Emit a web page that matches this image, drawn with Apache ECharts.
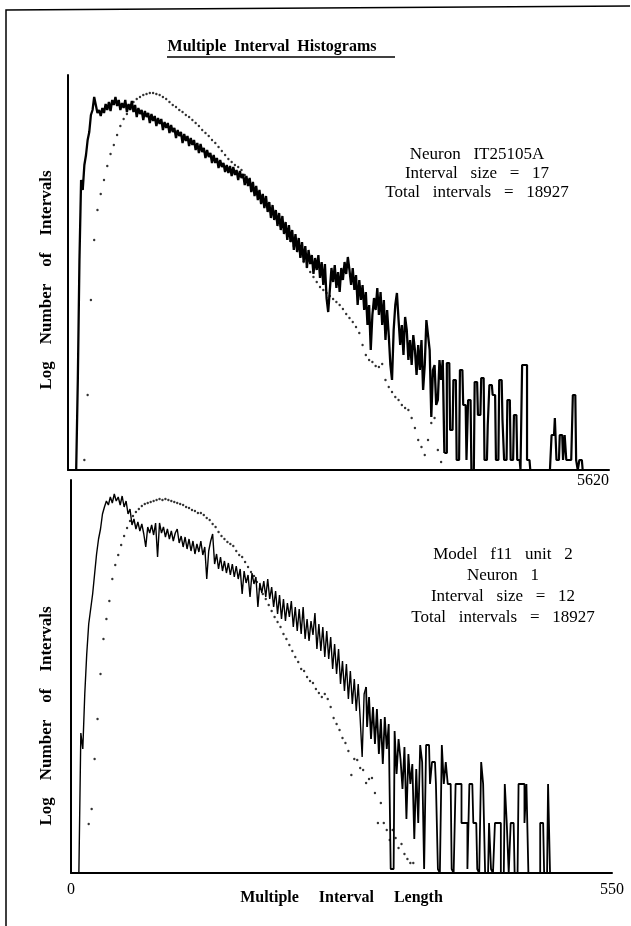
<!DOCTYPE html>
<html>
<head>
<meta charset="utf-8">
<script src="https://cdn.jsdelivr.net/npm/echarts@6/dist/echarts.min.js"></script>
<style>
  html, body { margin: 0; padding: 0; background: #fff; }
  #chart { width: 631px; height: 926px; }
</style>
</head>
<body>
<div id="chart"></div>
<script>
// Log-count multiple-interval histograms, one value per bin (null = bin not drawn).
// Upper panel: recorded neuron, 17 ms bins on an axis running to 5620.
const topBinWidth = 17;
const topAxisMax = 5620;
const topNeuron = [
  null, null, null, null, null, -0.1, 0.8, 2.0, 2.8, 2.7,
  2.95, 3.05, 3.2, 3.28, 3.45, 3.5, 3.63, 3.55, 3.47, 3.5,
  3.44, 3.52, 3.47, 3.56, 3.5, 3.58, 3.49, 3.6, 3.55, 3.63,
  3.54, 3.6, 3.5, 3.57, 3.52, 3.6, 3.48, 3.56, 3.5, 3.59,
  3.48, 3.55, 3.43, 3.52, 3.46, 3.5, 3.4, 3.49, 3.43, 3.47,
  3.37, 3.46, 3.39, 3.44, 3.34, 3.42, 3.36, 3.41, 3.3, 3.38,
  3.32, 3.37, 3.27, 3.35, 3.28, 3.32, 3.22, 3.3, 3.24, 3.28,
  3.17, 3.26, 3.19, 3.24, 3.14, 3.22, 3.15, 3.2, 3.1, 3.17,
  3.07, 3.16, 3.08, 3.12, 3.02, 3.1, 3.03, 3.07, 2.97, 3.05,
  2.97, 3.02, 2.92, 3.0, 2.93, 2.97, 2.88, 2.95, 2.87, 2.94,
  2.84, 2.93, 2.85, 2.9, 2.8, 2.89, 2.82, 2.86, 2.75, 2.84,
  2.74, 2.82, 2.68, 2.78, 2.64, 2.74, 2.6, 2.7, 2.56, 2.66,
  2.52, 2.64, 2.48, 2.58, 2.42, 2.55, 2.4, 2.5, 2.34, 2.47,
  2.3, 2.44, 2.26, 2.38, 2.2, 2.35, 2.18, 2.3, 2.1, 2.26,
  2.08, 2.22, 2.02, 2.18, 1.98, 2.14, 1.92, 2.1, 1.96, 2.05,
  1.86, 2.02, 1.9, 2.05, 1.82, 1.98, 1.75, 1.96, 1.62, 1.48,
  1.7, 1.92, 1.78, 1.95, 1.72, 1.88, 1.68, 1.92, 1.8, 1.98,
  1.86, 2.03, 1.9, 1.75, 1.92, 1.7, 1.85, 1.55, 1.8, 1.6,
  1.75, 1.5, 1.68, 1.35, 1.55, 1.1, 1.45, 1.62, 1.5, 1.72,
  1.45, 1.68, 1.35, 1.6, 1.2, 1.5, 1.25, 0.95, 0.8, 1.3,
  1.55, 1.67, 1.4, 1.15, 1.35, 1.05, 1.43, 1.3, 1.0, 1.2,
  0.95, 1.25, 1.1, 0.85, 1.15, 0.9, 1.2, 0.7, 0.95, 1.4,
  1.4, 1.1, 0.43, 0.9, 0.95, 0.55, 0.6, 1.0, 0.8, 1.0,
  0.07, 0.07, 0.97, 0.97, 0.3, 0.3, 0.8, 0.8, 0.0, 0.0,
  0.9, 0.9, 0.55, 0.55, 0.0, 0.6, 0.6, -0.1, -0.1, 0.78,
  0.78, 0.45, 0.45, 0.82, 0.82, 0.0, 0.0, 0.35, 0.75, 0.75,
  0.65, 0.65, 0.0, 0.0, 0.8, 0.8, 0.4, 0.0, 0.0, 0.6,
  0.6, 0.0, 0.0, 0.45, 0.45, 0.0, 0.0, -0.1, 0.95, 0.95,
  0.95, 0.0, 0.0, -0.1, -0.1, -0.1, -0.1, -0.1, -0.1, -0.1,
  -0.1, -0.1, -0.1, -0.1, -0.1, -0.1, 0.25, 0.25, 0.42, 0.0,
  0.0, 0.25, 0.25, 0.0, 0.25, 0.0, 0.0, 0.0, 0.0, 0.65,
  0.65, 0.0, -0.1, 0.0, 0.0, -0.1, -0.1, -0.1, -0.1, -0.1,
  -0.1, -0.1, -0.1, -0.1, -0.1, -0.1, -0.1, -0.1, -0.1, -0.1,
  -0.1
];
// from this bin on the sparse tail is drawn as blocky steps
const topTailStart = 230;

// Dotted reference curve of the upper panel, 34 ms bins.
const topModelBinWidth = 34;
const topModel = [
  null, null, null, null, null, 0.0, 0.65, 1.6, 2.2, 2.5,
  2.66, 2.8, 2.94, 3.06, 3.15, 3.25, 3.34, 3.41, 3.46, 3.53,
  3.58, 3.61, 3.63, 3.65, 3.66, 3.67, 3.67, 3.66, 3.65, 3.63,
  3.61, 3.58, 3.55, 3.53, 3.5, 3.48, 3.45, 3.43, 3.4, 3.37,
  3.34, 3.3, 3.27, 3.24, 3.2, 3.17, 3.13, 3.09, 3.05, 3.01,
  2.98, 2.95, 2.93, 2.9, 2.85, 2.8, 2.75, 2.71, 2.67, 2.63,
  2.58, 2.53, 2.48, 2.44, 2.39, 2.34, 2.29, 2.24, 2.19, 2.14,
  2.09, 2.04, 1.98, 1.93, 1.88, 1.83, 1.78, 1.73, 1.7, 1.67,
  1.64, 1.61, 1.58, 1.55, 1.51, 1.46, 1.42, 1.38, 1.33, 1.27,
  1.15, 1.05, 1.0, 0.98, 0.94, 0.93, 0.96, 0.8, 0.73, 0.68,
  0.63, 0.6, 0.55, 0.52, 0.5, 0.42, 0.32, 0.2, 0.13, 0.05,
  0.2, 0.37, 0.42, 0.1, -0.02
];

// Lower panel: model unit, bins of 2 on an axis running to 550.
const bottomBinWidth = 2;
const bottomAxisMax = 550;
const bottomNeuron = [
  null, null, null, null, -0.04, 1.36, 1.2, 1.75, 2.15, 2.45,
  2.6, 2.75, 2.95, 3.15, 3.3, 3.4, 3.55, 3.62, 3.68, 3.64,
  3.72, 3.66, 3.75, 3.68, 3.72, 3.64, 3.73, 3.62, 3.68, 3.55,
  3.6, 3.44, 3.5, 3.4, 3.47, 3.38, 3.45, 3.35, 3.22, 3.42,
  3.36, 3.44, 3.34, 3.46, 3.12, 3.46, 3.36, 3.42, 3.32, 3.4,
  3.3, 3.38, 3.28, 3.36, 3.4, 3.26, 3.33, 3.22, 3.32, 3.2,
  3.3, 3.18, 3.28, 3.15, 3.25, 3.17, 3.28, 3.14, 3.22, 2.9,
  3.18, 3.28, 3.35, 3.05, 3.15, 3.0, 3.12, 2.98, 3.08, 2.96,
  3.06, 2.94, 3.05, 2.92, 3.03, 2.9, 3.0, 2.75, 2.98, 2.86,
  2.94, 2.72, 2.96, 2.85, 2.92, 2.62, 2.86, 2.76, 2.88, 2.72,
  2.9, 2.7, 2.82, 2.62, 2.78, 2.55, 2.74, 2.5, 2.7, 2.48,
  2.66, 2.52, 2.68, 2.42, 2.62, 2.38, 2.6, 2.35, 2.62, 2.3,
  2.5, 2.28, 2.48, 2.34, 2.56, 2.2, 2.45, 2.18, 2.42, 2.12,
  2.38, 2.1, 2.32, 2.0, 2.25, 1.95, 2.2, 1.85, 2.08, 1.78,
  2.05, 1.7, 1.98, 1.65, 1.9, 1.58, 1.85, 1.5, 1.12, 1.75,
  1.82, 1.42, 1.72, 1.3, 1.62, 1.25, 1.6, 1.15, 1.5, 1.05,
  1.52, 1.2, 1.45, 0.0, 0.0, 1.38, 0.95, 1.3, 1.1, 0.8,
  1.22, 0.5, 1.15, 0.85, 1.05, 0.3, 1.0, 0.46, 1.24, 1.07,
  0.0, 1.24, 1.24, 0.85, 1.07, 1.07, 0.85, 0.0, -0.04, 1.24,
  0.85, 1.07, 0.85, 0.85, 0.0, -0.04, 0.85, 0.85, 0.85, 0.46,
  0.46, 0.46, 0.0, 0.85, 0.85, 0.46, 0.46, 0.0, -0.04, 1.07,
  0.85, -0.04, -0.04, 0.46, 0.0, -0.04, 0.46, 0.46, 0.46, -0.04,
  -0.04, 0.85, 0.46, -0.04, 0.46, 0.46, -0.04, -0.04, 0.85, 0.85,
  0.85, 0.46, 0.85, -0.04, -0.04, -0.04, -0.04, -0.04, -0.04, 0.46,
  0.46, -0.04, -0.04, 0.85, -0.04, -0.04, -0.04, -0.04, -0.04, -0.04,
  -0.04, -0.04, -0.04, -0.04, -0.04, -0.04, -0.04, -0.04, -0.04, -0.04,
  -0.04, -0.04, -0.04, -0.04, -0.04, -0.04, -0.04, -0.04, -0.04, -0.04,
  -0.04, -0.04, -0.04, -0.04, -0.04, -0.04
];
const bottomTailStart = 150;

// Dotted reference curve of the lower panel, bins of 3.
const bottomModelBinWidth = 3;
const bottomModel = [
  null, null, null, null, null, null, 0.45, 0.6, 1.1, 1.5,
  1.95, 2.3, 2.5, 2.68, 2.9, 3.04, 3.14, 3.24, 3.33, 3.41,
  3.48, 3.53, 3.57, 3.6, 3.63, 3.65, 3.66, 3.67, 3.68, 3.69,
  3.7, 3.69, 3.7, 3.69, 3.68, 3.67, 3.66, 3.65, 3.64, 3.62,
  3.61, 3.59, 3.58, 3.56, 3.56, 3.54, 3.51, 3.49, 3.45, 3.42,
  3.37, 3.33, 3.3, 3.27, 3.25, 3.23, 3.18, 3.14, 3.12, 3.07,
  3.02, 2.97, 2.93, 2.87, 2.8, 2.75, 2.7, 2.64, 2.58, 2.52,
  2.47, 2.42, 2.35, 2.3, 2.24, 2.18, 2.12, 2.07, 2.0, 1.98,
  1.92, 1.88, 1.86, 1.8, 1.76, 1.72, 1.75, 1.7, 1.62, 1.51,
  1.45, 1.39, 1.31, 1.26, 1.18, 0.94, 1.1, 1.09, 1.01, 0.99,
  0.86, 0.9, 0.91, 0.76, 0.46, 0.66, 0.46, 0.39, 0.29, 0.39,
  0.31, 0.21, 0.25, 0.15, 0.1, 0.06, 0.06
];

const topInfo = ['Neuron   IT25105A', 'Interval   size   =   17', 'Total   intervals   =   18927'];
const bottomInfo = ['Model   f11   unit   2', 'Neuron   1', 'Interval   size   =   12', 'Total   intervals   =   18927'];
const yTitle = 'Log    Number    of    Intervals';
const xTitle = 'Multiple     Interval     Length';

const SERIF = '"Liberation Serif", "DejaVu Serif", serif';

function pairs(values, binWidth) {
  return values.map((v, i) => [i * binWidth, v]);
}

const chart = echarts.init(document.getElementById('chart'), null, { renderer: 'canvas' });

const axisLine = { show: true, onZero: false, lineStyle: { color: '#000', width: 2 } };

function infoBlock(lines, cx, y0, step) {
  return lines.map((t, k) => ({
    type: 'text', x: cx, y: y0 + k * step, silent: true,
    style: { text: t, fill: '#000', font: '17px ' + SERIF, textAlign: 'center', textVerticalAlign: 'middle' }
  }));
}

// Dense body drawn as a plain polyline, sparse tail as steps; both share the split bin.
function traceSeries(values, binWidth, tailStart, axisIdx, width, tailWidth) {
  const all = pairs(values, binWidth);
  const base = {
    type: 'line', xAxisIndex: axisIdx, yAxisIndex: axisIdx, showSymbol: false, silent: true
  };
  return [
    Object.assign({}, base, { data: all.slice(0, tailStart + 1), lineStyle: { color: '#000', width: width } }),
    Object.assign({}, base, { step: 'middle', data: all.slice(tailStart), lineStyle: { color: '#000', width: tailWidth } })
  ];
}

chart.setOption({
  animation: false,
  backgroundColor: '#fff',
  grid: [
    { left: 68, top: 75, width: 541, height: 395 },
    { left: 71, top: 480, width: 541, height: 393 }
  ],
  xAxis: [
    {
      gridIndex: 0, type: 'value', min: 0, max: topAxisMax, interval: topAxisMax,
      axisLine, axisTick: { show: false }, splitLine: { show: false },
      axisLabel: {
        showMinLabel: true, showMaxLabel: true, margin: 3, align: 'right',
        color: '#000', fontFamily: SERIF, fontSize: 16,
        formatter: v => (v === topAxisMax ? String(topAxisMax) : '')
      }
    },
    {
      gridIndex: 1, type: 'value', min: 0, max: bottomAxisMax, interval: bottomAxisMax,
      axisLine, axisTick: { show: false }, splitLine: { show: false },
      axisLabel: {
        showMinLabel: true, showMaxLabel: true, margin: 9,
        color: '#000', fontFamily: SERIF, fontSize: 16
      },
      name: xTitle, nameLocation: 'middle', nameGap: 17, nameMoveOverlap: false,
      nameTextStyle: { color: '#000', fontFamily: SERIF, fontSize: 16, fontWeight: 'bold' }
    }
  ],
  yAxis: [
    {
      gridIndex: 0, type: 'value', min: -0.1, max: 3.85,
      axisLine, axisTick: { show: false }, axisLabel: { show: false }, splitLine: { show: false }
    },
    {
      gridIndex: 1, type: 'value', min: -0.04, max: 3.89,
      axisLine, axisTick: { show: false }, axisLabel: { show: false }, splitLine: { show: false }
    }
  ],
  graphic: [
    {
      type: 'polyline', silent: true,
      shape: { points: [[6, 940], [6, 10], [630, 6]] },
      style: { stroke: '#000', lineWidth: 1.5, fill: null }
    },
    {
      type: 'text', x: 272, y: 47, silent: true,
      style: { text: 'Multiple  Interval  Histograms', fill: '#000', font: 'bold 16px ' + SERIF, textAlign: 'center', textVerticalAlign: 'middle' }
    },
    {
      type: 'line', silent: true,
      shape: { x1: 167, y1: 57, x2: 395, y2: 57 },
      style: { stroke: '#000', lineWidth: 1.5 }
    },
    {
      type: 'text', x: 47, y: 280, rotation: Math.PI / 2, silent: true,
      style: { text: yTitle, fill: '#000', font: 'bold 17px ' + SERIF, textAlign: 'center', textVerticalAlign: 'middle' }
    },
    {
      type: 'text', x: 47, y: 716, rotation: Math.PI / 2, silent: true,
      style: { text: yTitle, fill: '#000', font: 'bold 17px ' + SERIF, textAlign: 'center', textVerticalAlign: 'middle' }
    },
    ...infoBlock(topInfo, 477, 155, 19),
    ...infoBlock(bottomInfo, 503, 555, 20.7)
  ],
  series: [
    ...traceSeries(topNeuron, topBinWidth, topTailStart, 0, 2.3, 2.2),
    {
      type: 'scatter', xAxisIndex: 0, yAxisIndex: 0, symbolSize: 2.4, silent: true,
      data: pairs(topModel, topModelBinWidth), itemStyle: { color: '#000' }, z: 3
    },
    ...traceSeries(bottomNeuron, bottomBinWidth, bottomTailStart, 1, 1.4, 1.8),
    {
      type: 'scatter', xAxisIndex: 1, yAxisIndex: 1, symbolSize: 2.4, silent: true,
      data: pairs(bottomModel, bottomModelBinWidth), itemStyle: { color: '#000' }, z: 3
    }
  ]
});
</script>
</body>
</html>
